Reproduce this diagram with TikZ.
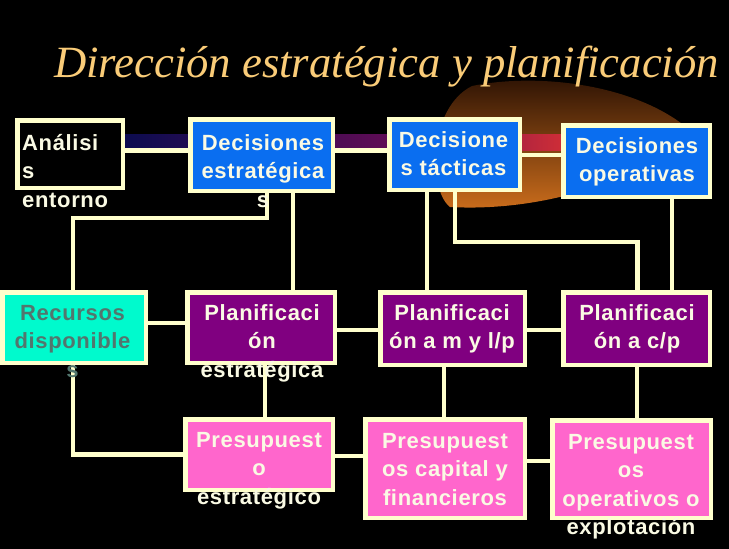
\documentclass[tikz,border=0pt]{standalone}
\usepackage{fontspec}
\usepackage{tikz}
\usetikzlibrary{calc}
\newfontfamily\boxfont[LetterSpace=3]{Liberation Sans}
\newfontfamily\titlefont{Liberation Serif}
\definecolor{slidecream}{RGB}{255,255,204}
\definecolor{slidetitle}{RGB}{250,204,120}
\definecolor{slideblue}{RGB}{10,110,240}
\definecolor{slidepurple}{RGB}{128,0,128}
\definecolor{slidepink}{RGB}{255,102,204}
\definecolor{slidecyan}{RGB}{0,250,205}
\definecolor{slideteal}{RGB}{82,118,110}
\definecolor{slidetext}{RGB}{250,250,228}
\definecolor{slidenavy}{RGB}{12,12,80}
\definecolor{slideplum}{RGB}{95,12,85}
\definecolor{slidecrimson}{RGB}{205,45,55}
\definecolor{slidebrown}{RGB}{40,16,3}
\definecolor{slidetan}{RGB}{125,60,14}
\definecolor{slideorange}{RGB}{205,110,28}

\begin{document}
\begin{tikzpicture}[x=1pt,y=-1pt,
  box/.style={draw=slidecream,line width=4.5pt,inner sep=0pt,outer sep=0pt},
  conn/.style={draw=slidecream,line width=4.5pt},
  txt/.style={font=\boxfont\bfseries\fontsize{22}{28.5}\selectfont,text=slidetext,align=center,inner sep=0pt,anchor=north}]
  \fill[black] (0,0) rectangle (729,549);
  \useasboundingbox (0,0) rectangle (729,549);
  % background swoosh and band
  \shade[top color=slidebrown,middle color=slidetan,bottom color=slideorange] (692,132) .. controls (640,85) and (540,72) .. (472,86) .. controls (428,108) and (428,190) .. (450,207) .. controls (540,212) and (640,182) .. (692,132) -- cycle;
  \shade[left color=slidenavy,right color=slideplum] (125,134) rectangle (388,150);
  \shade[left color=slideplum,right color=slidecrimson] (388,134) rectangle (561,150);
  \node[font=\titlefont\itshape\fontsize{44.7}{50}\selectfont,text=slidetitle,anchor=base] (title) at (386.5,77) {Dirección estratégica y planificación};
  % boxes
  \node[box,fill=black,minimum width=105.5pt,minimum height=67.5pt] (ana) at (70,154) {};
  \node[box,fill=slideblue,minimum width=142.5pt,minimum height=71.5pt] (dest) at (261.5,155) {};
  \node[box,fill=slideblue,minimum width=130.5pt,minimum height=70.5pt] (dtac) at (454.5,154.5) {};
  \node[box,fill=slideblue,minimum width=146.5pt,minimum height=71.5pt] (dope) at (636.5,161) {};
  \node[box,fill=slidecyan,minimum width=143.5pt,minimum height=70.5pt] (recu) at (74,327.5) {};
  \node[box,fill=slidepurple,minimum width=147.5pt,minimum height=70.5pt] (pest) at (261,327.5) {};
  \node[box,fill=slidepurple,minimum width=144.5pt,minimum height=72.5pt] (pmlp) at (452.5,328.5) {};
  \node[box,fill=slidepurple,minimum width=146.5pt,minimum height=72.5pt] (pcp) at (636.5,328.5) {};
  \node[box,fill=slidepink,minimum width=147.5pt,minimum height=70.5pt] (prest) at (259,454.5) {};
  \node[box,fill=slidepink,minimum width=159.5pt,minimum height=98.5pt] (prcap) at (445,468.5) {};
  \node[box,fill=slidepink,minimum width=158.5pt,minimum height=97.5pt] (prop) at (631.5,469) {};
  % connectors
  \draw[conn] ($(ana.east)+(0,-3.5)$) -| (dest.west);
  \draw[conn] ($(dest.east)+(0,-4.5)$) -| (dtac.west);
  \draw[conn] ($(dtac.east)+(0,0.5)$) -| (dope.west);
  \draw[conn] ($(dest.south)+(5.5,0)$) -- ++(0,27) -| ($(recu.north)+(-1,0)$);
  \draw[conn] ($(dest.south)+(31.5,0)$) |- (pest.north);
  \draw[conn] ($(dtac.south)+(-27.5,0)$) |- (pmlp.north);
  \draw[conn] ($(dtac.south)+(0.5,0)$) -- ++(0,52) -| ($(pcp.north)+(1,0)$);
  \draw[conn] ($(dope.south)+(35.5,0)$) |- (pcp.north);
  \draw[conn] ($(recu.east)+(0,-4.5)$) -| (pest.west);
  \draw[conn] ($(pest.east)+(0,2.5)$) -| (pmlp.west);
  \draw[conn] ($(pmlp.east)+(0,1.5)$) -| (pcp.west);
  \draw[conn] ($(recu.south)+(-1,0)$) |- (prest.west);
  \draw[conn] ($(pest.south)+(4,0)$) |- (prest.north);
  \draw[conn] ($(pmlp.south)+(-8.5,0)$) |- (prcap.north);
  \draw[conn] ($(pcp.south)+(0.5,0)$) |- (prop.north);
  \draw[conn] ($(prest.east)+(0,1.5)$) -| (prcap.west);
  \draw[conn] ($(prcap.east)+(0,-7.5)$) -| (prop.west);
  % texts
  \node[txt,anchor=north west,align=left] (ana-t) at (22,130) {\strut Análisi\\s\\entorno};
  \node[txt] (dest-t) at (263,130) {\strut Decisiones\\estratégica\\s};
  \node[txt] (dtac-t) at (453.5,127) {\strut Decisione\\s tácticas};
  \node[txt] (dope-t) at (637,133) {\strut Decisiones\\operativas};
  \node[txt,text=slideteal] (recu-t) at (72.5,300) {\strut Recursos\\disponible\\s};
  \node[txt] (pest-t) at (262,300) {\strut Planificaci\\ón\\estratégica};
  \node[txt] (pmlp-t) at (452,300) {\strut Planificaci\\ón a m y l/p};
  \node[txt] (pcp-t) at (637,300) {\strut Planificaci\\ón a c/p};
  \node[txt] (prest-t) at (259,427) {\strut Presupuest\\o\\estratégico};
  \node[txt] (prcap-t) at (445,428) {\strut Presupuest\\os capital y\\financieros};
  \node[txt] (prop-t) at (631,429) {\strut Presupuest\\os\\operativos o\\explotación};
\end{tikzpicture}
\end{document}
